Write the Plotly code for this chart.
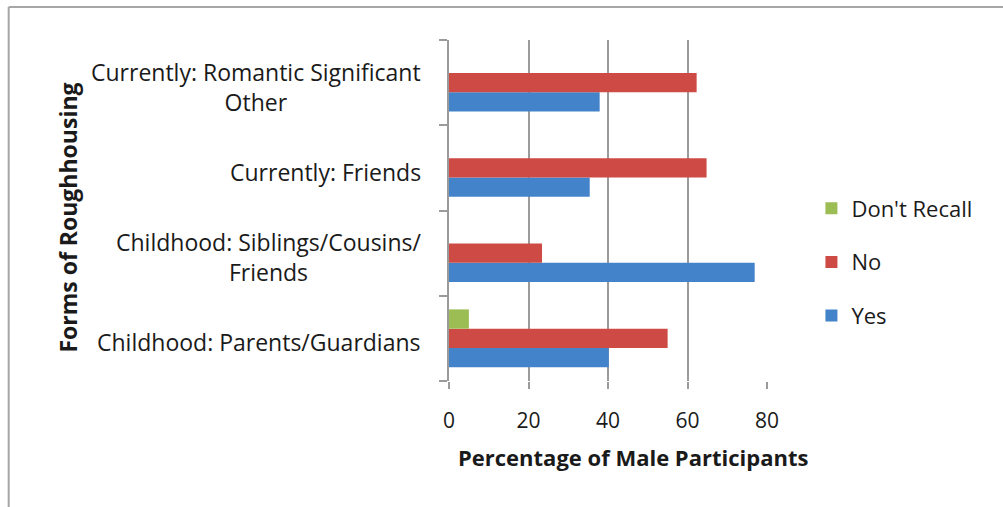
import plotly.graph_objects as go

# Forms of roughhousing (bottom to top) and responses in percent
categories = [
    "Childhood: Parents/Guardians",
    "Childhood: Siblings/Cousins/<br>Friends",
    "Currently: Friends",
    "Currently: Romantic Significant<br>Other",
]
yes_pct = [40.2, 76.9, 35.4, 37.9]
no_pct = [55.0, 23.4, 64.8, 62.3]
dont_recall_pct = [5.0, 0, 0, 0]

x_ticks = [0, 20, 40, 60, 80]

W, H = 1003, 507
L, R, T, B = 449, 1003 - 767.5, 40, 507 - 381
PW, PH = W - L - R, H - T - B

FONT = "Open Sans"
GRID = "#9b9b9b"
TEXT = "#1a1a1a"

def px_x(px):
    return (px - L) / PW

def px_y(py):
    return (H - B - py) / PH

fig = go.Figure()
series = [
    ("Yes", yes_pct, "#4383c9", 3),
    ("No", no_pct, "#cd4b44", 2),
    ("Don't Recall", dont_recall_pct, "#9bbd54", 1),
]
for name, vals, color, rank in series:
    fig.add_trace(go.Bar(
        y=categories, x=vals, name=name, orientation="h",
        marker=dict(color=color, line=dict(width=0)),
        legendgroup=name, legendrank=rank,
    ))

# Category labels, centred line by line to the left of the axis
for cat in categories:
    fig.add_annotation(
        x=px_x(423), xref="paper", y=cat, yref="y",
        text=cat, showarrow=False, xanchor="right", yanchor="middle",
        align="center", yshift=-4,
        font=dict(family=FONT, size=23, color=TEXT),
    )

# Axis titles
fig.add_annotation(
    x=px_x(633), xref="paper", y=px_y(457), yref="paper",
    text="<b>Percentage of Male Participants</b>", showarrow=False,
    xanchor="center", yanchor="middle",
    font=dict(family=FONT, size=22, color=TEXT),
)
fig.add_annotation(
    x=px_x(67), xref="paper", y=px_y(218), yref="paper",
    text="<b>Forms of Roughhousing</b>", showarrow=False, textangle=-90,
    xanchor="center", yanchor="middle",
    font=dict(family=FONT, size=23, color=TEXT),
)

# Chart frame
frame = dict(color="#a6a6a6", width=2)
fig.add_shape(type="line", xref="paper", yref="paper",
              x0=px_x(8), x1=px_x(1010), y0=px_y(7), y1=px_y(7), line=frame)
fig.add_shape(type="line", xref="paper", yref="paper",
              x0=px_x(8), x1=px_x(8), y0=px_y(7), y1=px_y(515), line=frame)

fig.update_layout(
    width=W, height=H,
    margin=dict(l=L, r=R, t=T, b=B, pad=0),
    paper_bgcolor="white", plot_bgcolor="white",
    barmode="group", bargap=0.32, bargroupgap=0,
    font=dict(family=FONT, color=TEXT),
    legend=dict(
        x=px_x(812), y=px_y(262), xanchor="left", yanchor="middle",
        traceorder="grouped", tracegroupgap=22,
        itemwidth=30, font=dict(family=FONT, size=22, color=TEXT),
        bgcolor="rgba(0,0,0,0)",
    ),
    xaxis=dict(
        range=[0, 80], tickvals=x_ticks, ticktext=[str(v) for v in x_ticks],
        showgrid=True, gridcolor=GRID, gridwidth=2,
        zeroline=False, showline=False,
        ticks="outside", ticklen=7, tickwidth=2, tickcolor=GRID,
        tickfont=dict(family=FONT, size=21, color=TEXT),
        ticklabelstandoff=14,
        fixedrange=True,
    ),
    yaxis=dict(
        categoryorder="array", categoryarray=categories,
        showticklabels=False, showgrid=False, zeroline=False,
        showline=True, linecolor=GRID, linewidth=2,
        ticks="outside", tickson="boundaries", ticklen=8,
        tickwidth=2, tickcolor=GRID,
        fixedrange=True,
    ),
)

fig.write_html("out.html")
